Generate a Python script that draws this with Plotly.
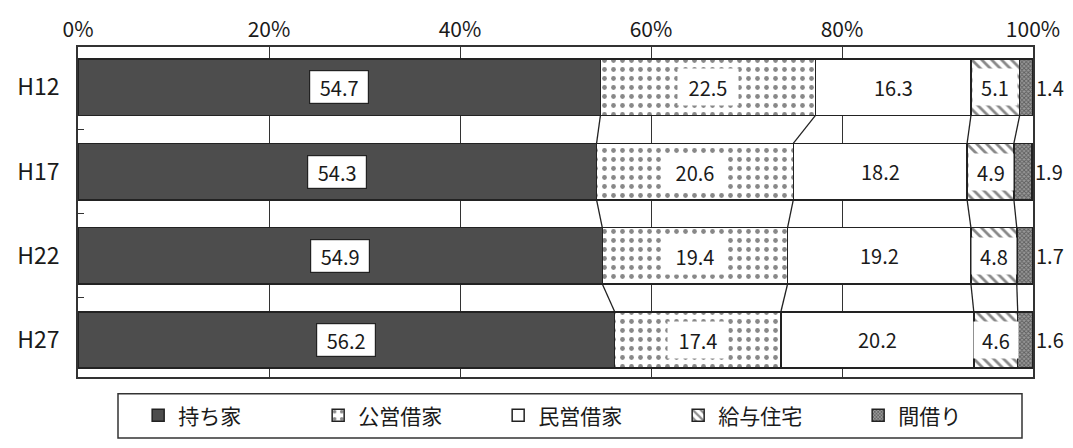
import plotly.graph_objects as go
import numpy as np

categories = ["H12", "H17", "H22", "H27"]
series_names = ["持ち家", "公営借家", "民営借家", "給与住宅", "間借り"]
mochiie = [54.7, 54.3, 54.9, 56.2]
koei = [22.5, 20.6, 19.4, 17.4]
minei = [16.3, 18.2, 19.2, 20.2]
kyuyo = [5.1, 4.9, 4.8, 4.6]
magari = [1.4, 1.9, 1.7, 1.6]
x_ticks = [0, 20, 40, 60, 80, 100]
x_ticklabels = ["0%", "20%", "40%", "60%", "80%", "100%"]

series = [mochiie, koei, minei, kyuyo, magari]
FONT = "Noto Sans CJK JP, sans-serif"
ypos = list(range(len(categories)))
BW = 0.67

styles = [
    dict(color="#4d4d4d"),
    dict(color="white", pattern=dict(shape=".", size=9, solidity=0.22, fgcolor="#111", bgcolor="white")),
    dict(color="white"),
    dict(color="white", pattern=dict(shape="\\", size=7, solidity=0.4, fgcolor="#111", bgcolor="white")),
    dict(color="#888", pattern=dict(shape="x", size=3, solidity=0.5, fgcolor="#222", bgcolor="#999")),
]

fig = go.Figure()
for name, vals, st in zip(series_names, series, styles):
    fig.add_trace(go.Bar(
        y=ypos, x=vals, name=name, orientation="h", width=BW,
        marker=dict(line=dict(color="#222", width=1.5), **st),
        hoverinfo="skip",
    ))

cum = np.cumsum(np.array(series), axis=0)
starts = cum - np.array(series)

for k in range(4):
    for i in range(len(categories) - 1):
        fig.add_trace(go.Scatter(
            x=[cum[k][i], cum[k][i + 1]], y=[i + BW / 2, i + 1 - BW / 2],
            mode="lines", line=dict(color="#222", width=1.3),
            showlegend=False, hoverinfo="skip",
        ))

annos = []
for i in range(len(categories)):
    for k, vals in enumerate(series):
        v = vals[i]
        xc = starts[k][i] + v / 2
        txt = f"{v:.1f}"
        base = dict(x=xc, y=i, xref="x", yref="y", text=txt, showarrow=False,
                    font=dict(family=FONT, size=20, color="#1a1a1a"))
        if k == 0:
            base.update(bgcolor="white", bordercolor="#222", borderwidth=1.2, borderpad=2,
                        width=54, height=28)
        elif k == 1:
            base.update(bgcolor="white", borderpad=2, width=56, height=32)
        elif k == 3:
            base.update(bgcolor="white", borderpad=2, width=40, height=32)
        elif k == 4:
            base.update(x=cum[k][i], xanchor="left", xshift=1)
        annos.append(base)

fig.update_layout(
    width=1065, height=440,
    margin=dict(l=70, r=40, t=39, b=65),
    paper_bgcolor="white", plot_bgcolor="white",
    barmode="stack",
    font=dict(family=FONT, size=20, color="#1a1a1a"),
    xaxis=dict(range=[0, 100], side="top", tickvals=x_ticks, ticktext=x_ticklabels,
               showgrid=True, gridcolor="#333", gridwidth=1,
               showline=True, linecolor="#333", linewidth=1.5, mirror=True,
               ticks="", zeroline=False, tickfont=dict(size=21), automargin=False),
    yaxis=dict(range=[3.44, -0.48], tickvals=ypos, ticktext=categories,
               showgrid=False, showline=True, linecolor="#333", linewidth=1.5, mirror=True,
               ticks="", zeroline=False, tickfont=dict(size=23), ticklabelstandoff=12,
               automargin=False,
               minor=dict(tick0=0.5, dtick=1, ticks="inside", ticklen=6, tickcolor="#333", showgrid=False)),
    showlegend=True,
    legend=dict(orientation="h", x=0.063, xanchor="left", y=-0.055, yanchor="top",
                borderwidth=0, traceorder="normal", bgcolor="rgba(0,0,0,0)",
                entrywidth=135, font=dict(size=21, family=FONT)),
    shapes=[dict(type="rect", xref="paper", yref="paper",
                 x0=(118 - 78) / 955, x1=(1022 - 78) / 955,
                 y0=-(445 - 383) / 336, y1=-(400 - 383) / 336,
                 line=dict(color="#333", width=1.5))],
    annotations=annos,
)

fig.write_html("out.html")
